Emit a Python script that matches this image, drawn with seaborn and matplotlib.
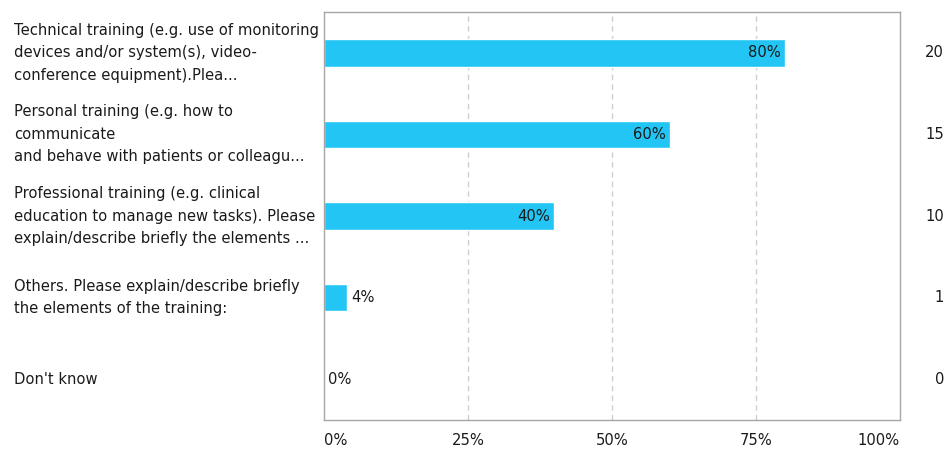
import matplotlib
matplotlib.use("Agg")
import matplotlib.pyplot as plt
import matplotlib.transforms as mtransforms
import seaborn as sns
import pandas as pd

categories = [
    "Technical training (e.g. use of monitoring\ndevices and/or system(s), video-\nconference equipment).Plea...",
    "Personal training (e.g. how to\ncommunicate\nand behave with patients or colleagu...",
    "Professional training (e.g. clinical\neducation to manage new tasks). Please\nexplain/describe briefly the elements ...",
    "Others. Please explain/describe briefly\nthe elements of the training:",
    "Don't know",
]
percents = [80, 60, 40, 4, 0]
counts = [20, 15, 10, 1, 0]
x_ticks = [0, 25, 50, 75, 100]
x_tick_labels = ["0%", "25%", "50%", "75%", "100%"]

df = pd.DataFrame({"category": categories, "percent": percents, "count": counts})

sns.set_theme(style="white")
plt.rcParams["font.family"] = ["DejaVu Sans"]

fig = plt.figure(figsize=(9.46, 4.5), dpi=100)
ax = fig.add_axes([324 / 946, 30 / 450, 576 / 946, 408 / 450])

bar_color = "#22c5f3"
sns.barplot(data=df, x="percent", y="category", color=bar_color, width=0.34,
            saturation=1, ax=ax, orient="h")

ax.set_xlim(0, 100)
ax.set_ylim(4.5, -0.5)
ax.set_xlabel("")
ax.set_ylabel("")

# vertical dashed grid
for gx in [25, 50, 75]:
    ax.axvline(gx, color="#d0d0d0", linestyle=(0, (4, 3)), linewidth=1, zorder=0)

for sp in ax.spines.values():
    sp.set_color("#a6a6a6")
    sp.set_linewidth(1)
    sp.set_visible(True)

ax.set_yticks(range(len(categories)))
ax.set_yticklabels([])
ax.tick_params(axis="y", length=0)
ax.set_xticks(x_ticks)
ax.set_xticklabels([])
ax.tick_params(axis="x", length=0)

text_color = "#1a1a1a"
fs = 10.6

# x tick labels: first left-aligned, last right-aligned
below = ax.get_xaxis_transform() + mtransforms.ScaledTranslation(0, -0.13, fig.dpi_scale_trans)
for xt, lab in zip(x_ticks, x_tick_labels):
    ha = "left" if xt == 0 else ("right" if xt == 100 else "center")
    ax.text(xt, 0, lab, ha=ha, va="top", fontsize=fs, color=text_color,
            transform=below)

row_tf = mtransforms.blended_transform_factory(fig.transFigure, ax.transData)

# category labels on the left, counts on the right
for i, (cat, c) in enumerate(zip(categories, counts)):
    fig.text(14 / 946, i, cat, ha="left", va="center", fontsize=fs,
             color=text_color, linespacing=1.62, transform=row_tf)
    fig.text(944 / 946, i, str(c), ha="right", va="center", fontsize=fs,
             color=text_color, transform=row_tf)

# percentage labels: inside long bars, after short ones
for i, p in enumerate(percents):
    lab = f"{p}%"
    if p >= 20:
        ax.annotate(lab, (p, i), xytext=(-3, 0), textcoords="offset points",
                    ha="right", va="center", fontsize=fs, color=text_color)
    else:
        ax.annotate(lab, (p, i), xytext=(3, 0), textcoords="offset points",
                    ha="left", va="center", fontsize=fs, color=text_color)

fig.savefig("out.png", dpi=100, facecolor="white")
